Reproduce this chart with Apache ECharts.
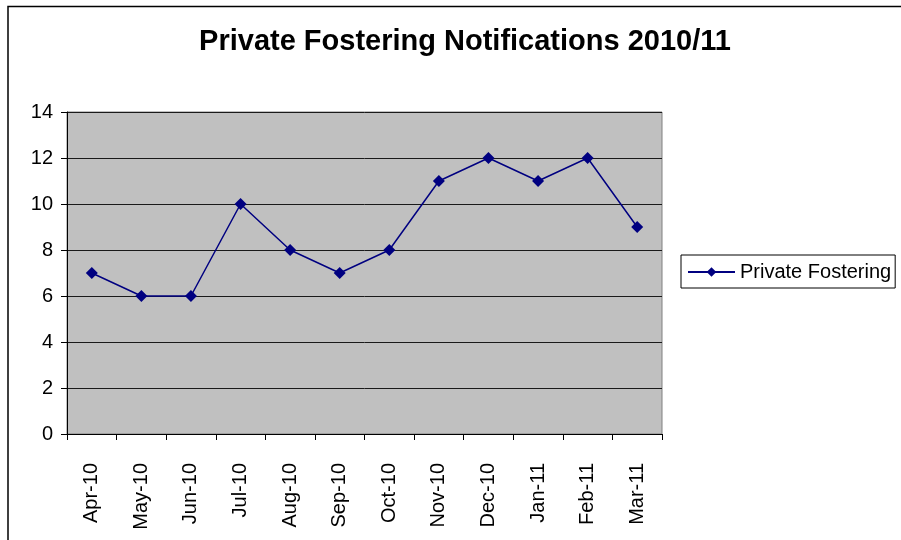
<!DOCTYPE html>
<html>
<head>
<meta charset="utf-8">
<script src="https://cdn.jsdelivr.net/npm/echarts@6/dist/echarts.min.js"></script>
<style>
  html, body { margin: 0; padding: 0; background: #fff; }
  #chart { width: 901px; height: 540px; }
</style>
</head>
<body>
<div id="chart"></div>
<script>
var months = ['Apr-10', 'May-10', 'Jun-10', 'Jul-10', 'Aug-10', 'Sep-10',
  'Oct-10', 'Nov-10', 'Dec-10', 'Jan-11', 'Feb-11', 'Mar-11'];
var notifications = [7, 6, 6, 10, 8, 7, 8, 11, 12, 11, 12, 9];
var seriesName = 'Private Fostering';

var chart = echarts.init(document.getElementById('chart'));
var font = 'Arial, "Liberation Sans", sans-serif';

chart.setOption({
  animation: false,
  backgroundColor: '#fff',
  textStyle: { fontFamily: font },
  title: {
    text: 'Private Fostering Notifications 2010/11',
    left: 460,
    textAlign: 'center',
    top: 22,
    textStyle: { fontSize: 29, fontWeight: 'bold', color: '#000', fontFamily: font }
  },
  graphic: [{
    type: 'rect',
    shape: { x: 8, y: 6.5, width: 920, height: 560 },
    style: { fill: null, stroke: '#000', lineWidth: 1.5 },
    silent: true
  }],
  legend: {
    data: [seriesName],
    left: 681,
    top: 255,
    orient: 'vertical',
    itemWidth: 47,
    itemHeight: 12,
    itemGap: 0,
    padding: [7, 4, 6, 6],
    borderColor: '#000',
    borderWidth: 1,
    textStyle: { fontSize: 20, color: '#000', fontFamily: font }
  },
  grid: {
    left: 67,
    top: 112,
    right: 239,
    bottom: 106,
    show: true,
    backgroundColor: '#c0c0c0',
    borderColor: '#808080',
    borderWidth: 1
  },
  xAxis: {
    type: 'category',
    data: months,
    boundaryGap: true,
    axisLine: { lineStyle: { color: '#000', width: 1 } },
    axisTick: { show: true, length: 6, lineStyle: { color: '#000' } },
    axisLabel: { rotate: 90, margin: 29, fontSize: 20, color: '#000', fontFamily: font }
  },
  yAxis: {
    type: 'value',
    min: 0,
    max: 14,
    interval: 2,
    axisLine: { show: true, lineStyle: { color: '#000', width: 1 } },
    axisTick: { show: true, length: 6, lineStyle: { color: '#000' } },
    axisLabel: { fontSize: 20, color: '#000', margin: 14, fontFamily: font },
    splitLine: { lineStyle: { color: '#1a1a1a', width: 1 } }
  },
  series: [{
    name: seriesName,
    type: 'line',
    data: notifications,
    symbol: 'diamond',
    symbolSize: 12,
    itemStyle: { color: '#000080' },
    lineStyle: { color: '#000080', width: 1.5 }
  }]
});
</script>
</body>
</html>
